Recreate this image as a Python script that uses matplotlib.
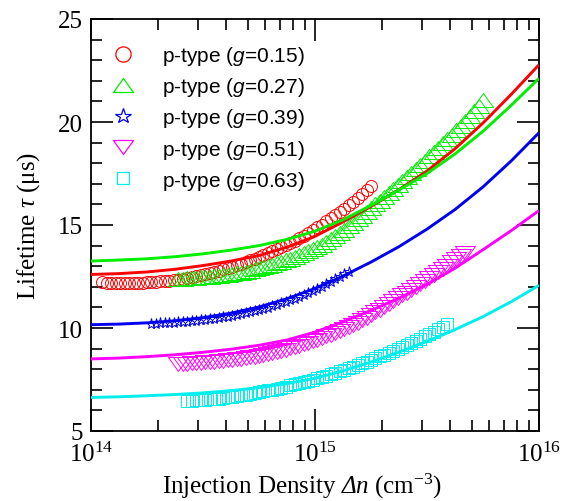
import numpy as np
import matplotlib
matplotlib.use("Agg")
import matplotlib.pyplot as plt
from matplotlib.lines import Line2D
from matplotlib.ticker import LogLocator, MultipleLocator, LogFormatterMathtext, NullFormatter

# ---------------- data (log10 of injection density, lifetime in us) ----------------
labels = ["p-type ($\\mathsf{g}$=0.15)", "p-type ($\\mathsf{g}$=0.27)", "p-type ($\\mathsf{g}$=0.39)",
          "p-type ($\\mathsf{g}$=0.51)", "p-type ($\\mathsf{g}$=0.63)"]
colors = ["#FF0000", "#00EE00", "#0000EE", "#FF00FF", "#00EEEE"]

logdn_red = [14.05, 14.07, 14.09, 14.11, 14.13, 14.15, 14.17, 14.19, 14.21, 14.23, 14.25, 14.27, 14.29,
             14.31, 14.33, 14.35, 14.37, 14.39, 14.41, 14.43, 14.45, 14.47, 14.49, 14.51, 14.53, 14.55,
             14.57, 14.59, 14.61, 14.63, 14.65, 14.67, 14.69, 14.71, 14.73, 14.75, 14.77, 14.79, 14.81,
             14.83, 14.85, 14.87, 14.89, 14.91, 14.93, 14.95, 14.97, 14.99, 15.01, 15.03, 15.05, 15.07,
             15.09, 15.11, 15.13, 15.15, 15.17, 15.19, 15.21, 15.23, 15.25]
tau_red = [12.22, 12.20, 12.20, 12.19, 12.18, 12.18, 12.18, 12.18, 12.19, 12.20, 12.21, 12.22, 12.24,
           12.26, 12.28, 12.30, 12.32, 12.35, 12.39, 12.43, 12.47, 12.51, 12.56, 12.61, 12.66, 12.72,
           12.78, 12.84, 12.90, 12.97, 13.04, 13.12, 13.20, 13.28, 13.36, 13.44, 13.53, 13.62, 13.72,
           13.82, 13.92, 14.02, 14.13, 14.24, 14.36, 14.48, 14.61, 14.74, 14.88, 15.02, 15.17, 15.32,
           15.48, 15.64, 15.80, 15.96, 16.12, 16.29, 16.50, 16.70, 16.90]

logdn_green = [14.39, 14.41, 14.43, 14.45, 14.47, 14.49, 14.51, 14.53, 14.55, 14.57, 14.59, 14.61, 14.63,
               14.65, 14.67, 14.69, 14.71, 14.73, 14.75, 14.77, 14.79, 14.81, 14.83, 14.85, 14.87, 14.89,
               14.91, 14.93, 14.95, 14.97, 14.99, 15.01, 15.03, 15.05, 15.07, 15.09, 15.11, 15.13, 15.15,
               15.17, 15.19, 15.21, 15.23, 15.25, 15.27, 15.29, 15.31, 15.33, 15.35, 15.37, 15.39, 15.41,
               15.43, 15.45, 15.47, 15.49, 15.51, 15.53, 15.55, 15.57, 15.59, 15.61, 15.63, 15.65, 15.67,
               15.69, 15.71, 15.73, 15.75]
tau_green = [12.38, 12.39, 12.41, 12.42, 12.44, 12.46, 12.48, 12.50, 12.52, 12.54, 12.56, 12.58, 12.61,
             12.65, 12.69, 12.74, 12.79, 12.84, 12.89, 12.95, 13.01, 13.08, 13.15, 13.22, 13.29, 13.37,
             13.45, 13.54, 13.63, 13.72, 13.82, 13.93, 14.05, 14.18, 14.32, 14.47, 14.62, 14.78, 14.94,
             15.11, 15.28, 15.46, 15.64, 15.82, 16.00, 16.18, 16.36, 16.55, 16.74, 16.93, 17.12, 17.32,
             17.52, 17.72, 17.92, 18.12, 18.33, 18.54, 18.75, 18.96, 19.17, 19.39, 19.61, 19.83, 20.05,
             20.28, 20.51, 20.76, 21.05]

logdn_blue = [14.27, 14.29, 14.31, 14.33, 14.35, 14.37, 14.39, 14.41, 14.43, 14.45, 14.47, 14.49, 14.51,
              14.53, 14.55, 14.57, 14.59, 14.61, 14.63, 14.65, 14.67, 14.69, 14.71, 14.73, 14.75, 14.77,
              14.79, 14.81, 14.83, 14.85, 14.87, 14.89, 14.91, 14.93, 14.95, 14.97, 14.99, 15.01, 15.03,
              15.05, 15.07, 15.09, 15.11, 15.13, 15.15]
tau_blue = [10.20, 10.21, 10.22, 10.23, 10.24, 10.25, 10.27, 10.29, 10.31, 10.33, 10.35, 10.37, 10.39,
            10.42, 10.45, 10.48, 10.51, 10.55, 10.59, 10.63, 10.67, 10.72, 10.77, 10.82, 10.87, 10.93,
            10.99, 11.05, 11.12, 11.19, 11.26, 11.34, 11.42, 11.50, 11.59, 11.68, 11.78, 11.89, 12.00,
            12.12, 12.24, 12.36, 12.48, 12.60, 12.72]

logdn_magenta = [14.39, 14.41, 14.43, 14.45, 14.47, 14.49, 14.51, 14.53, 14.55, 14.57, 14.59, 14.61, 14.63,
                 14.65, 14.67, 14.69, 14.71, 14.73, 14.75, 14.77, 14.79, 14.81, 14.83, 14.85, 14.87, 14.89,
                 14.91, 14.93, 14.95, 14.97, 14.99, 15.01, 15.03, 15.05, 15.07, 15.09, 15.11, 15.13, 15.15,
                 15.17, 15.19, 15.21, 15.23, 15.25, 15.27, 15.29, 15.31, 15.33, 15.35, 15.37, 15.39, 15.41,
                 15.43, 15.45, 15.47, 15.49, 15.51, 15.53, 15.55, 15.57, 15.59, 15.61, 15.63, 15.65, 15.67]
tau_magenta = [8.25, 8.26, 8.27, 8.28, 8.30, 8.32, 8.33, 8.35, 8.37, 8.39, 8.41, 8.43, 8.45,
               8.48, 8.51, 8.54, 8.57, 8.61, 8.65, 8.69, 8.73, 8.78, 8.83, 8.89, 8.95, 9.01,
               9.08, 9.15, 9.22, 9.29, 9.36, 9.44, 9.52, 9.60, 9.68, 9.77, 9.86, 9.95, 10.05,
               10.15, 10.26, 10.38, 10.50, 10.63, 10.76, 10.89, 11.02, 11.16, 11.30, 11.44, 11.58, 11.72,
               11.86, 12.00, 12.14, 12.28, 12.42, 12.57, 12.72, 12.87, 13.02, 13.18, 13.34, 13.50, 13.66]

logdn_cyan = [14.43, 14.45, 14.47, 14.49, 14.51, 14.53, 14.55, 14.57, 14.59, 14.61, 14.63, 14.65, 14.67,
              14.69, 14.71, 14.73, 14.75, 14.77, 14.79, 14.81, 14.83, 14.85, 14.87, 14.89, 14.91, 14.93,
              14.95, 14.97, 14.99, 15.01, 15.03, 15.05, 15.07, 15.09, 15.11, 15.13, 15.15, 15.17, 15.19,
              15.21, 15.23, 15.25, 15.27, 15.29, 15.31, 15.33, 15.35, 15.37, 15.39, 15.41, 15.43, 15.45,
              15.47, 15.49, 15.51, 15.53, 15.55, 15.57, 15.59]
tau_cyan = [6.47, 6.48, 6.49, 6.50, 6.51, 6.53, 6.55, 6.57, 6.60, 6.63, 6.66, 6.69, 6.73,
            6.77, 6.81, 6.85, 6.89, 6.93, 6.97, 7.01, 7.06, 7.11, 7.16, 7.21, 7.26, 7.31,
            7.37, 7.43, 7.49, 7.55, 7.62, 7.69, 7.76, 7.83, 7.90, 7.97, 8.04, 8.12, 8.20,
            8.28, 8.36, 8.44, 8.53, 8.62, 8.71, 8.80, 8.89, 8.98, 9.08, 9.18, 9.28, 9.38,
            9.49, 9.60, 9.71, 9.82, 9.94, 10.06, 10.18]

# model curves
logdn_fit = [14.0, 14.125, 14.25, 14.375, 14.5, 14.625, 14.75, 14.875, 15.0,
             15.125, 15.25, 15.375, 15.5, 15.625, 15.75, 15.875, 16.0]
fit_red = [12.60, 12.64, 12.72, 12.85, 13.03, 13.25, 13.52, 13.92, 14.45,
           15.15, 15.90, 16.72, 17.62, 18.70, 19.95, 21.33, 22.78]
fit_green = [13.25, 13.30, 13.36, 13.46, 13.60, 13.78, 14.00, 14.30, 14.70,
             15.25, 15.95, 16.70, 17.50, 18.45, 19.55, 20.80, 22.12]
fit_blue = [10.16, 10.19, 10.25, 10.35, 10.50, 10.72, 11.02, 11.42, 11.92,
            12.52, 13.20, 13.95, 14.80, 15.75, 16.85, 18.10, 19.48]
fit_magenta = [8.50, 8.54, 8.61, 8.70, 8.82, 8.97, 9.16, 9.42, 9.80,
               10.30, 10.85, 11.45, 12.12, 12.90, 13.80, 14.72, 15.70]
fit_cyan = [6.63, 6.66, 6.71, 6.77, 6.85, 6.96, 7.10, 7.30, 7.56,
            7.92, 8.35, 8.83, 9.35, 9.92, 10.55, 11.27, 12.07]

# ---------------- style ----------------
plt.rcParams.update({
    "font.family": ["Liberation Serif", "DejaVu Serif"],
    "mathtext.fontset": "custom",
    "mathtext.rm": "Liberation Serif",
    "mathtext.it": "Liberation Serif:italic",
    "mathtext.cal": "Liberation Serif:italic",
    "mathtext.sf": "Liberation Sans:italic",
})

tri_up = [(-1, -0.7), (1, -0.7), (0, 0.7), (-1, -0.7)]
tri_dn = [(-1, 0.7), (1, 0.7), (0, -0.7), (-1, 0.7)]

series = [
    (logdn_red, tau_red, "o", 8.6, 11.0),
    (logdn_green, tau_green, tri_up, 14.4, 14.4),
    (logdn_blue, tau_blue, "*", 8.0, 11.4),
    (logdn_magenta, tau_magenta, tri_dn, 14.4, 14.4),
    (logdn_cyan, tau_cyan, "s", 8.0, 8.6),
]
fits = [fit_red, fit_green, fit_blue, fit_magenta, fit_cyan]

fig = plt.figure(figsize=(5.72, 5.02), dpi=100)
ax = fig.add_axes([91 / 572, 70 / 502, 448 / 572, 412 / 502])

handles = []
for (lx, ty, mk, ms, lms), col, lab in zip(series, colors, labels):
    ax.plot(10 ** np.array(lx), ty, linestyle="none", marker=mk, markersize=ms,
            markerfacecolor="none", markeredgecolor=col, markeredgewidth=0.7, zorder=2)
    handles.append(Line2D([], [], linestyle="none", marker=mk, markersize=lms,
                          markerfacecolor="none", markeredgecolor=col, markeredgewidth=0.9))

for fy, col in zip(fits, colors):
    ax.plot(10 ** np.array(logdn_fit), fy, color=col, linewidth=2.1, zorder=3,
            solid_capstyle="butt")

ax.set_xscale("log")
ax.set_xlim(1e14, 1e16)
ax.set_ylim(5, 25)
ax.xaxis.set_major_locator(LogLocator(base=10, numticks=10))
ax.xaxis.set_minor_locator(LogLocator(base=10, subs=np.arange(2, 10), numticks=20))
ax.xaxis.set_major_formatter(LogFormatterMathtext())
ax.xaxis.set_minor_formatter(NullFormatter())
ax.yaxis.set_major_locator(MultipleLocator(5))
ax.yaxis.set_minor_locator(MultipleLocator(1))

ax.tick_params(which="both", direction="in", top=True, right=True, width=1.2, labelsize=18, colors="black")
ax.tick_params(which="major", length=15.8)
ax.tick_params(which="minor", length=8.2)
ax.tick_params(axis="y", pad=6)
ax.tick_params(axis="x", pad=7.5)
for s in ax.spines.values():
    s.set_linewidth(1.3)

ax.set_xlabel("Injection Density $\\mathcal{\u0394n}$ (cm$^{\\mathregular{-3}}$)", fontsize=18)
ax.set_ylabel("Lifetime $\\tau$ (\u03bcs)", fontsize=18)
ax.xaxis.set_label_coords(0.47, -0.097)
ax.yaxis.set_label_coords(-0.11, 0.5)

ax.legend(handles, labels, loc="upper left", bbox_to_anchor=(0.0366, 0.939), frameon=False,
          prop={"family": "Liberation Sans", "size": 15}, handlelength=1.5, handletextpad=1.1,
          labelspacing=0.39, borderpad=0.0, borderaxespad=0.0)

fig.savefig("out.png", dpi=100, facecolor="white")
